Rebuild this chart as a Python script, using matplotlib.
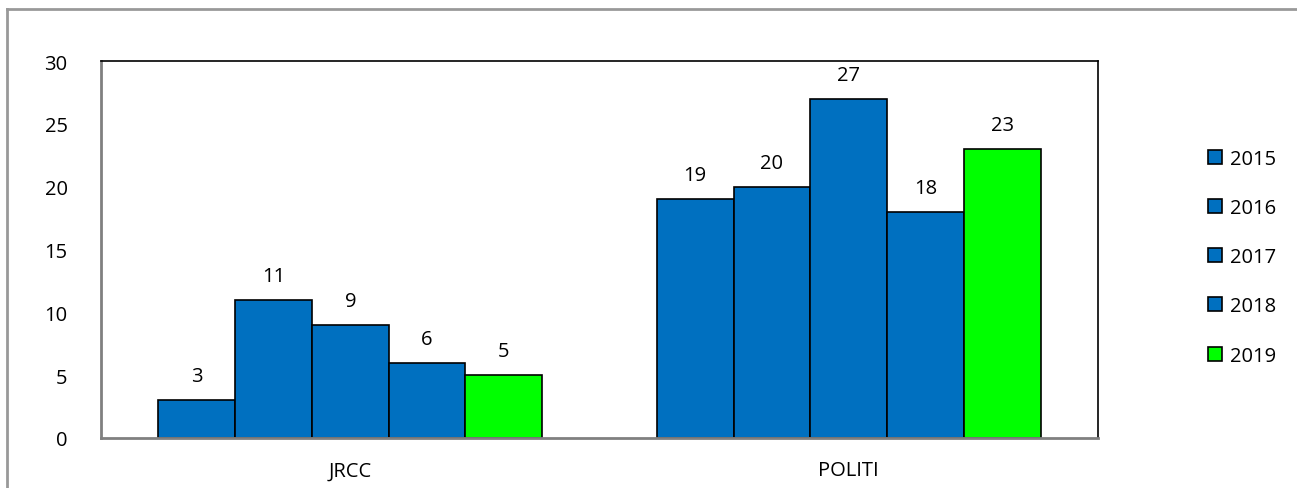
import matplotlib.pyplot as plt
import matplotlib.patches as mpatches
from matplotlib.lines import Line2D
import numpy as np

plt.rcParams['font.family'] = ['Open Sans', 'DejaVu Sans']

categories = ['JRCC', 'POLITI']
years = ['2015', '2016', '2017', '2018', '2019']
values = {
    '2015': [3, 19],
    '2016': [11, 20],
    '2017': [9, 27],
    '2018': [6, 18],
    '2019': [5, 23],
}
bar_colors = ['#0070C0', '#0070C0', '#0070C0', '#0070C0', '#00FF00']

fig = plt.figure(figsize=(12.97, 4.89), dpi=100)
ax = fig.add_axes([101 / 1297, 1 - 439 / 489, 997 / 1297, 377 / 489])

x = np.arange(len(categories))
w = 0.154
for i, yr in enumerate(years):
    pos = x + (i - 2) * w
    bars = ax.bar(pos, values[yr], width=w, color=bar_colors[i],
                  edgecolor='black', linewidth=1.2, label=yr, zorder=2)
    for b, v in zip(bars, values[yr]):
        ax.text(b.get_x() + w / 2, v + 1.1, str(v), ha='center', va='bottom',
                fontsize=14.5)

ax.set_xlim(-0.5, 1.5)
ax.set_ylim(0, 30)
ax.set_yticks(range(0, 31, 5))
ax.set_xticks(x)
ax.set_xticklabels(categories)
ax.tick_params(length=0, labelsize=14.5)
ax.tick_params(axis='y', pad=24)
ax.tick_params(axis='x', pad=16)
for s in ['left', 'bottom']:
    ax.spines[s].set_color('#808080')
    ax.spines[s].set_linewidth(2)
for s in ['top', 'right']:
    ax.spines[s].set_color('black')
    ax.spines[s].set_linewidth(1.2)

# legend
ax.legend(loc='upper left', bbox_to_anchor=(1.092, 0.815), frameon=False,
          fontsize=14.5, handlelength=0.7, handleheight=0.7,
          handletextpad=0.4, labelspacing=1.45)

# outer frame (partial, as in the crop)
fig.add_artist(Line2D([7 / 1297, 7 / 1297], [0, 1 - 10 / 489],
                      transform=fig.transFigure, color='#999999', lw=2))
fig.add_artist(Line2D([7 / 1297, 1], [1 - 10 / 489, 1 - 10 / 489],
                      transform=fig.transFigure, color='#999999', lw=2))

plt.savefig('out.png', dpi=100, facecolor='white')
